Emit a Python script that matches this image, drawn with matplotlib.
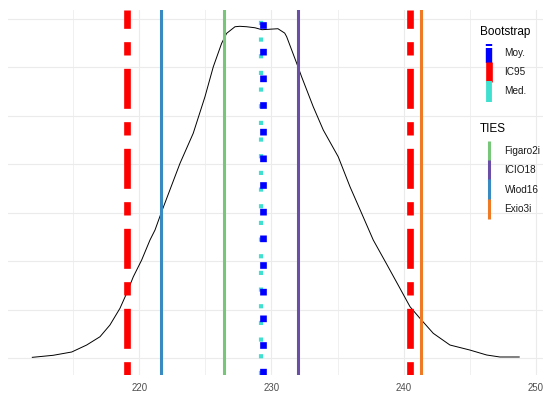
import matplotlib
matplotlib.use("Agg")
import matplotlib.pyplot as plt
from matplotlib.lines import Line2D
from matplotlib.legend_handler import HandlerBase

plt.rcParams["font.family"] = ["Liberation Sans", "DejaVu Sans"]

# Bootstrap density of the estimate
dens_x = [211.91, 213.49, 214.89, 216.02, 217.03, 217.78, 218.54, 218.99, 219.55,
          220.18, 220.81, 221.19, 221.69, 223.08, 224.08, 224.97, 225.60, 226.23,
          226.61, 227.24, 227.60, 228.12, 228.75, 229.28, 229.88, 230.49, 231.00,
          231.15, 231.53, 231.91, 232.28, 233.16, 233.92, 235.05, 235.94, 236.82,
          237.70, 238.71, 239.72, 240.48, 241.23, 242.24, 243.50, 245.00, 246.28,
          247.28, 248.74]
dens_y = [0.00014, 0.00056, 0.00124, 0.00268, 0.00439, 0.00680, 0.01025, 0.01300, 0.01676,
          0.02020, 0.02433, 0.02639, 0.03016, 0.04014, 0.04633, 0.05388, 0.06006, 0.06489,
          0.06695, 0.06831, 0.06840, 0.06831, 0.06810, 0.06770, 0.06780, 0.06790, 0.06700,
          0.06625, 0.06351, 0.06076, 0.05800, 0.05181, 0.04701, 0.04150, 0.03532, 0.02984,
          0.02433, 0.01938, 0.01437, 0.01058, 0.00819, 0.00509, 0.00268, 0.00165, 0.00062,
          0.00021, 0.00021]

# Bootstrap summaries
boot_mean = 229.35
boot_median = 229.2
boot_ic95 = [219.05, 240.48]
boot_labels = ["Moy.", "IC95", "Med."]

# Estimates from the input-output tables
ties_labels = ["Figaro2i", "ICIO18", "Wiod16", "Exio3i"]
ties_values = [226.4, 232.0, 221.65, 241.33]
ties_colors = ["#78C679", "#6A4FA6", "#3A8AC2", "#EE7A26"]

x_ticks = [220, 230, 240, 250]

fig = plt.figure(figsize=(5.43, 3.94), dpi=100)
ax = fig.add_axes([8 / 543, 19.5 / 394, 535 / 543, 364.2 / 394])
ax.set_xlim(210.07, 250.54)
ax.set_ylim(-0.0034, 0.0717)

# grid
for xv in [215, 225, 235, 245]:
    ax.axvline(xv, color="#EEEEEE", lw=0.6, zorder=0)
for xv in x_ticks:
    ax.axvline(xv, color="#EBEBEB", lw=0.8, zorder=0)
for i in range(8):
    ax.axhline(i * 0.01, color="#EBEBEB", lw=0.8, zorder=0)

ax.plot(dens_x, dens_y, color="black", lw=0.7, zorder=2)

boot_styles = {
    "Moy.": dict(color="#0000FF", lw=4.8, linestyle=(0, (1, 3))),
    "IC95": dict(color="#FF0000", lw=4.8, linestyle=(0, (2, 2, 6, 2))),
    "Med.": dict(color="#40E0D0", lw=3.0, linestyle=(0, (1, 3))),
}

for v, c in zip(ties_values, ties_colors):
    ax.axvline(v, color=c, lw=2.2, zorder=3)
ax.axvline(boot_median, zorder=4, **boot_styles["Med."])
ax.axvline(boot_mean, zorder=5, **boot_styles["Moy."])
for v in boot_ic95:
    ax.axvline(v, zorder=5, **boot_styles["IC95"])

ax.set_xticks(x_ticks)
ax.set_xticklabels([str(t) for t in x_ticks])
ax.tick_params(axis="x", length=0, pad=6, labelsize=6.9, labelcolor="#4D4D4D")
ax.set_yticks([])
for s in ax.spines.values():
    s.set_visible(False)


class VKey(HandlerBase):
    """Legend key drawn as vertical segments inside the key box.

    `pieces` lists (start, end) fractions of the box height, from the bottom.
    """

    def __init__(self, width_pt, pieces=((0.0, 1.0),)):
        super().__init__()
        self.width_pt = width_pt
        self.pieces = pieces

    def create_artists(self, legend, orig_handle, xdescent, ydescent, width, height,
                       fontsize, trans):
        x = -xdescent + width / 2
        artists = []
        for lo, hi in self.pieces:
            y0 = -ydescent + lo * height - (0.5 if lo == 0 else 0)
            y1 = -ydescent + hi * height + (0.5 if hi == 1 else 0)
            line = Line2D([x, x], [y0, y1], color=orig_handle.get_color(),
                          lw=self.width_pt, solid_capstyle="butt")
            line.set_transform(trans)
            artists.append(line)
        return artists


common = dict(frameon=False, borderpad=0, borderaxespad=0, labelspacing=0,
              handlelength=1.85, handleheight=2.6, handletextpad=0.6, fontsize=7.2,
              title_fontsize=8.5, alignment="left", loc="upper left",
              labelcolor="#1A1A1A")

boot_handles = [Line2D([], [], color=boot_styles[k]["color"]) for k in boot_labels]
boot_map = {boot_handles[0]: VKey(4.6, ((0.0, 0.74), (0.86, 0.97))),
            boot_handles[1]: VKey(4.8),
            boot_handles[2]: VKey(4.2)}
leg1 = ax.legend(boot_handles, boot_labels, title="Bootstrap", handler_map=boot_map,
                 bbox_to_anchor=(480 / 543, 1 - 26 / 394),
                 bbox_transform=fig.transFigure, **common)
leg1._legend_box.sep = 3.6
ax.add_artist(leg1)

ties_handles = [Line2D([], [], color=c) for c in ties_colors]
ties_map = {h: VKey(2.2) for h in ties_handles}
leg2 = ax.legend(ties_handles, ties_labels, title="TIES", handler_map=ties_map,
                 bbox_to_anchor=(480 / 543, 1 - 123 / 394),
                 bbox_transform=fig.transFigure, **common)
leg2._legend_box.sep = 4.5

fig.savefig("out.png", dpi=100)
